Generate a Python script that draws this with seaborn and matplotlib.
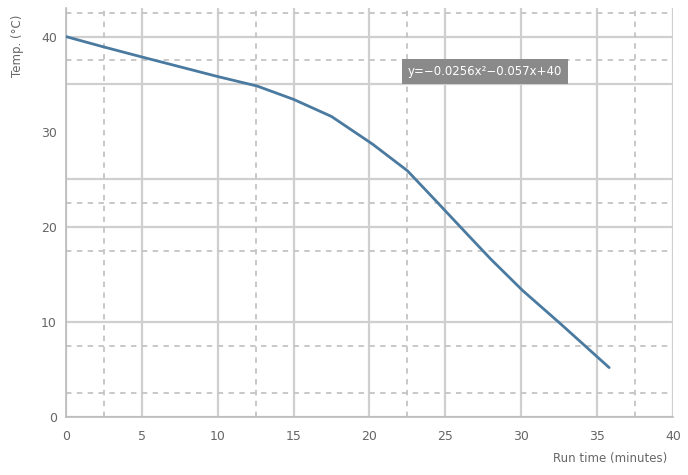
import matplotlib
matplotlib.use("Agg")
import matplotlib.pyplot as plt
import seaborn as sns
import pandas as pd

# Data
time_vals = [0, 2.4, 4.9, 10.0, 12.6, 15.0, 17.5, 20.2, 22.5, 24.4, 26.4, 28.0, 30.1, 32.6, 35.8]
temp_vals = [40.0, 38.95, 37.9, 35.8, 34.8, 33.4, 31.6, 28.7, 25.9, 22.7, 19.3, 16.6, 13.3, 9.8, 5.2]
x_ticks = [0, 5, 10, 15, 20, 25, 30, 35, 40]
y_ticks = [0, 10, 20, 30, 40]
annotation_text = "y=−0.0256x²−0.057x+40"
x_label = "Run time (minutes)"
y_label = "Temp. (°C)"

df = pd.DataFrame({"time": time_vals, "temp": temp_vals})

sns.set_theme(style="white")
plt.rcParams["font.family"] = ["DejaVu Sans"]

fig = plt.figure(figsize=(6.88, 4.75), dpi=100)
ax = fig.add_axes([0.096, 0.122, 0.882, 0.861])

grid_c = "#cfcfcf"
# solid major grid lines
for xv in [0, 5, 10, 15, 20, 25, 30, 35, 40]:
    ax.axvline(xv, color=grid_c, lw=1.6, zorder=0)
for yv in [0, 10, 20, 25, 35, 40]:
    ax.axhline(yv, color=grid_c, lw=1.6, zorder=0)
# dashed minor grid lines
for xv in [2.5, 12.5, 22.5, 37.5]:
    ax.axvline(xv, color="#c4c4c4", lw=1.3, ls=(0, (3, 3)), zorder=0)
for yv in [2.5, 7.5, 17.5, 22.5, 37.5, 42.5]:
    ax.axhline(yv, color="#c4c4c4", lw=1.3, ls=(0, (3, 3)), zorder=0)

sns.lineplot(data=df, x="time", y="temp", ax=ax, color="#4a7aa0", lw=2.0, zorder=3)

ax.set_xlim(0, 40)
ax.set_ylim(0, 43)
ax.set_xticks(x_ticks)
ax.set_yticks(y_ticks)
ax.set_xticklabels([str(v) for v in x_ticks])
ax.set_yticklabels([str(v) for v in y_ticks])
ax.tick_params(axis="both", colors="#666666", labelsize=9, length=3, width=0.8)
ax.tick_params(axis="x", pad=6)

for side in ["top", "right"]:
    ax.spines[side].set_visible(False)
for side in ["left", "bottom"]:
    ax.spines[side].set_color("#bbbbbb")
    ax.spines[side].set_linewidth(1.2)

ax.set_xlabel(x_label, fontsize=8.5, color="#666666", loc="right")
ax.set_ylabel(y_label, fontsize=8.5, color="#666666", loc="top")
ax.xaxis.set_label_coords(0.99, -0.085)
ax.yaxis.set_label_coords(-0.07, 0.985)

ax.text(27.6, 36.3, annotation_text, fontsize=8.5, color="white", ha="center", va="center",
        bbox=dict(boxstyle="square,pad=0.5", fc="#8a8a8a", ec="none"), zorder=5)

fig.savefig("out.png", dpi=100)
